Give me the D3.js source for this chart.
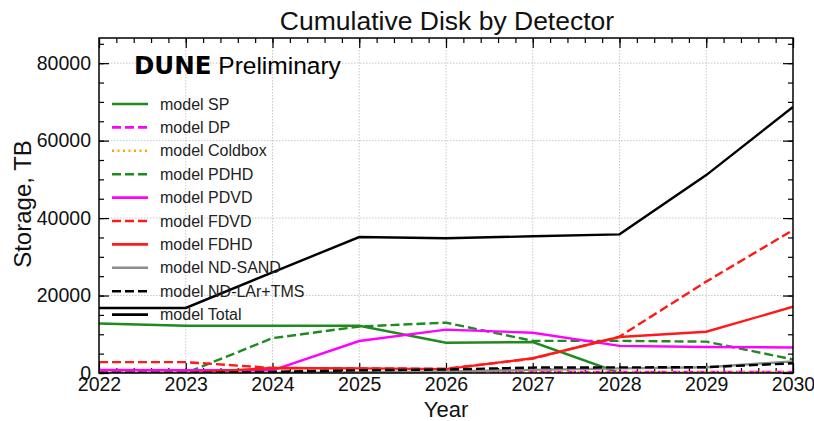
<!DOCTYPE html>
<html><head><meta charset="utf-8">
<script src="https://cdn.jsdelivr.net/npm/d3@7"></script>
<style>body{margin:0;background:#fff}svg{display:block;font-family:"Liberation Sans",Arial,sans-serif}</style>
</head><body><svg id="c" width="814" height="421"></svg>
<script>
const years = [2022,2023,2024,2025,2026,2027,2028,2029,2030];
const xTicks = [2022,2023,2024,2025,2026,2027,2028,2029,2030];
const yTicks = [0,20000,40000,60000,80000];
const sp       = [12800,12200,12200,12200,7800,8000,0,0,0];
const dp       = [300,300,300,300,300,300,300,300,300];
const coldbox  = [200,200,200,200,200,200,200,200,200];
const pdhd     = [0,0,9000,12000,13000,8300,8300,8100,3500];
const pdvd     = [800,700,700,8250,11200,10400,7000,6700,6600];
const fdvd     = [2800,2800,1300,1200,1100,3700,9400,23600,36900];
const fdhd     = [0,0,1300,1200,1000,3800,9300,10650,17100];
const ndsand   = [0,0,0,200,400,800,1200,1500,3000];
const ndlar    = [0,0,300,700,900,1400,1450,1500,2500];
const total    = [16800,16800,26000,35100,34800,35300,35800,51100,68700];

const seriesNames = ["model SP","model DP","model Coldbox","model PDHD","model PDVD","model FDVD","model FDHD","model ND-SAND","model ND-LAr+TMS","model Total"];
const seriesValues = [sp,dp,coldbox,pdhd,pdvd,fdvd,fdhd,ndsand,ndlar,total];
const seriesColors = ["#1f8a1f","#ff00ff","#ffa500","#1f8a1f","#ff00ff","#ff1a1a","#ff1a1a","#8c8c8c","#000000","#000000"];
const seriesDash = [null,"9,4","2,3.5","9,4",null,"9,4",null,null,"9,4",null];

const svg = d3.select("#c");
const L=99,R=793,T=38,B=373;
const x = d3.scaleLinear().domain([2022,2030]).range([L,R]);
const y = d3.scaleLinear().domain([0,86500]).range([B,T]);

// grid
const g = svg.append("g");
g.selectAll(".gx").data(xTicks.slice(1,-1)).enter().append("line")
 .attr("x1",d=>x(d)).attr("x2",d=>x(d)).attr("y1",T).attr("y2",B)
 .attr("stroke","#c8c8c8").attr("stroke-width",1).attr("stroke-dasharray","1.5,1.5");
g.selectAll(".gy").data(yTicks.slice(1)).enter().append("line")
 .attr("y1",d=>y(d)).attr("y2",d=>y(d)).attr("x1",L).attr("x2",R)
 .attr("stroke","#c8c8c8").attr("stroke-width",1).attr("stroke-dasharray","1.5,1.5");

// axes ticks (inward, all four sides)
const xMinor = d3.range(2022,2030.001,0.2);
const yMinor = d3.range(0,86500,5000);
function addAxis(axisFn, scale, ticks, size, transform){
  const a = axisFn(scale).tickValues(ticks).tickSize(size).tickSizeOuter(0).tickFormat("");
  const sel = svg.append("g").attr("transform",transform).call(a);
  sel.select(".domain").remove();
  sel.selectAll("line").attr("stroke","#000").attr("stroke-width",1.2);
  return sel;
}
addAxis(d3.axisTop, x, xMinor, 5, `translate(0,${B})`);
addAxis(d3.axisTop, x, xTicks, 10, `translate(0,${B})`);
addAxis(d3.axisBottom, x, xMinor, 5, `translate(0,${T})`);
addAxis(d3.axisBottom, x, xTicks, 10, `translate(0,${T})`);
addAxis(d3.axisRight, y, yMinor, 5, `translate(${L},0)`);
addAxis(d3.axisRight, y, yTicks, 10, `translate(${L},0)`);
addAxis(d3.axisLeft, y, yMinor, 5, `translate(${R},0)`);
addAxis(d3.axisLeft, y, yTicks, 10, `translate(${R},0)`);

// tick labels
const xl = svg.append("g").attr("transform",`translate(0,${B})`)
 .call(d3.axisBottom(x).tickValues(xTicks).tickSize(0).tickPadding(4).tickFormat(d3.format("d")));
xl.select(".domain").remove();
xl.selectAll("text").attr("font-size",19.5).attr("font-family","Liberation Sans, Arial, sans-serif").attr("fill","#111");
const yl = svg.append("g").attr("transform",`translate(${L},0)`)
 .call(d3.axisLeft(y).tickValues(yTicks).tickSize(0).tickPadding(8).tickFormat(d3.format("d")));
yl.select(".domain").remove();
yl.selectAll("text").attr("font-size",19.5).attr("font-family","Liberation Sans, Arial, sans-serif").attr("fill","#111");

// lines
svg.append("clipPath").attr("id","pc").append("rect").attr("x",L).attr("y",T).attr("width",R-L).attr("height",B-T);
const line = d3.line().x((d,i)=>x(years[i])).y(d=>y(d));
const lg = svg.append("g").attr("clip-path","url(#pc)");
seriesValues.forEach((vals,k)=>{
  lg.append("path").attr("d",line(vals)).attr("fill","none")
   .attr("stroke",seriesColors[k]).attr("stroke-width",2.4)
   .attr("stroke-dasharray",seriesDash[k]);
});

// frame
svg.append("rect").attr("x",L).attr("y",T).attr("width",R-L).attr("height",B-T)
 .attr("fill","none").attr("stroke","#000").attr("stroke-width",1.5);

// legend
const leg = svg.append("g");
seriesNames.forEach((n,k)=>{
  const yy = 104 + k*23.4;
  leg.append("line").attr("x1",112).attr("x2",148).attr("y1",yy).attr("y2",yy)
   .attr("stroke",seriesColors[k]).attr("stroke-width",2.6).attr("stroke-dasharray",seriesDash[k]);
  leg.append("text").attr("x",160).attr("y",yy+5.5).attr("font-size",16).attr("fill","#222").text(n);
});

// titles
svg.append("text").attr("x",447).attr("y",30).attr("text-anchor","middle").attr("font-size",26.5).attr("fill","#111").text("Cumulative Disk by Detector");
svg.append("text").attr("x",446).attr("y",417).attr("text-anchor","middle").attr("font-size",22).attr("fill","#111").text("Year");
svg.append("text").attr("transform","translate(31,204) rotate(-90)").attr("text-anchor","middle").attr("font-size",24).attr("fill","#111").text("Storage, TB");
const dn = svg.append("text").attr("x",134).attr("y",74).attr("font-size",24.5).attr("fill","#000");
dn.append("tspan").attr("font-weight","bold").attr("font-family","DejaVu Sans, sans-serif").text("DUNE");
dn.append("tspan").text(" Preliminary");
</script></body></html>
